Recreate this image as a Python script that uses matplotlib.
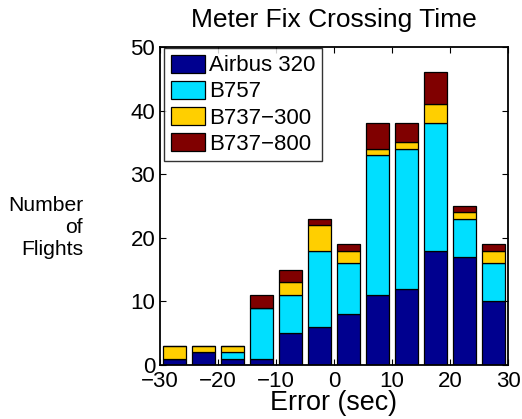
import numpy as np
import matplotlib
matplotlib.use('Agg')
import matplotlib.pyplot as plt

plt.rcParams['font.family'] = ['Liberation Sans', 'DejaVu Sans']

# nilai histogram per kelompok pesawat
bin_centers = [-27.5, -22.5, -17.5, -12.5, -7.5, -2.5, 2.5, 7.5, 12.5, 17.5, 22.5, 27.5]
airbus320 = [1, 2, 1, 1, 5, 6, 8, 11, 12, 18, 17, 10]
b757 = [0, 0, 1, 8, 6, 12, 8, 22, 22, 20, 6, 6]
b737_300 = [2, 1, 1, 0, 2, 4, 2, 1, 1, 3, 1, 2]
b737_800 = [0, 0, 0, 2, 2, 1, 1, 4, 3, 5, 1, 1]

series = [airbus320, b757, b737_300, b737_800]
labels = ['Airbus 320', 'B757', 'B737\u2212300', 'B737\u2212800']
colors = ['#00008F', '#00DFFF', '#FFCF00', '#800000']

W, H = 522, 419
fig = plt.figure(figsize=(W / 100, H / 100), dpi=100)
ax = fig.add_axes([160 / W, 1 - 365 / H, 348 / W, 318 / H])

bottom = np.zeros(len(bin_centers))
for vals, lab, col in zip(series, labels, colors):
    ax.bar(bin_centers, vals, width=4.1, bottom=bottom, color=col,
           edgecolor='black', linewidth=0.9, label=lab)
    bottom += np.array(vals)

ax.set_xlim(-30, 30)
ax.set_ylim(0, 50)
ax.set_xticks([-30, -20, -10, 0, 10, 20, 30])
ax.set_yticks([0, 10, 20, 30, 40, 50])
ax.set_xticklabels(['\u221230', '\u221220', '\u221210', '0', '10', '20', '30'])
ax.tick_params(direction='in', top=True, right=True, labelsize=16, length=4)
ax.tick_params(axis='x', pad=4.2)
ax.tick_params(axis='y', pad=3.5)
for sp in ax.spines.values():
    sp.set_linewidth(1.3)

# judul, label sumbu
fig.text(334 / W, 1 - 27 / H, 'Meter Fix Crossing Time', ha='center', va='baseline', fontsize=19)
fig.text(334 / W, 1 - 410 / H, 'Error (sec)', ha='center', va='baseline', fontsize=19.4)
fig.text(83 / W, 1 - 227 / H, 'Number\nof\nFlights', ha='right', va='center',
         fontsize=15.2, multialignment='right', linespacing=1.2)

leg = ax.legend(loc='upper left', bbox_to_anchor=(164 / W, 1 - 48 / H),
                bbox_transform=fig.transFigure, fontsize=16, frameon=True,
                fancybox=False, edgecolor='black', borderaxespad=0,
                handlelength=1.55, handleheight=0.87, handletextpad=0.18,
                labelspacing=0.2, borderpad=0.3)
leg.get_frame().set_linewidth(1.0)

fig.savefig('out.png', dpi=100)
